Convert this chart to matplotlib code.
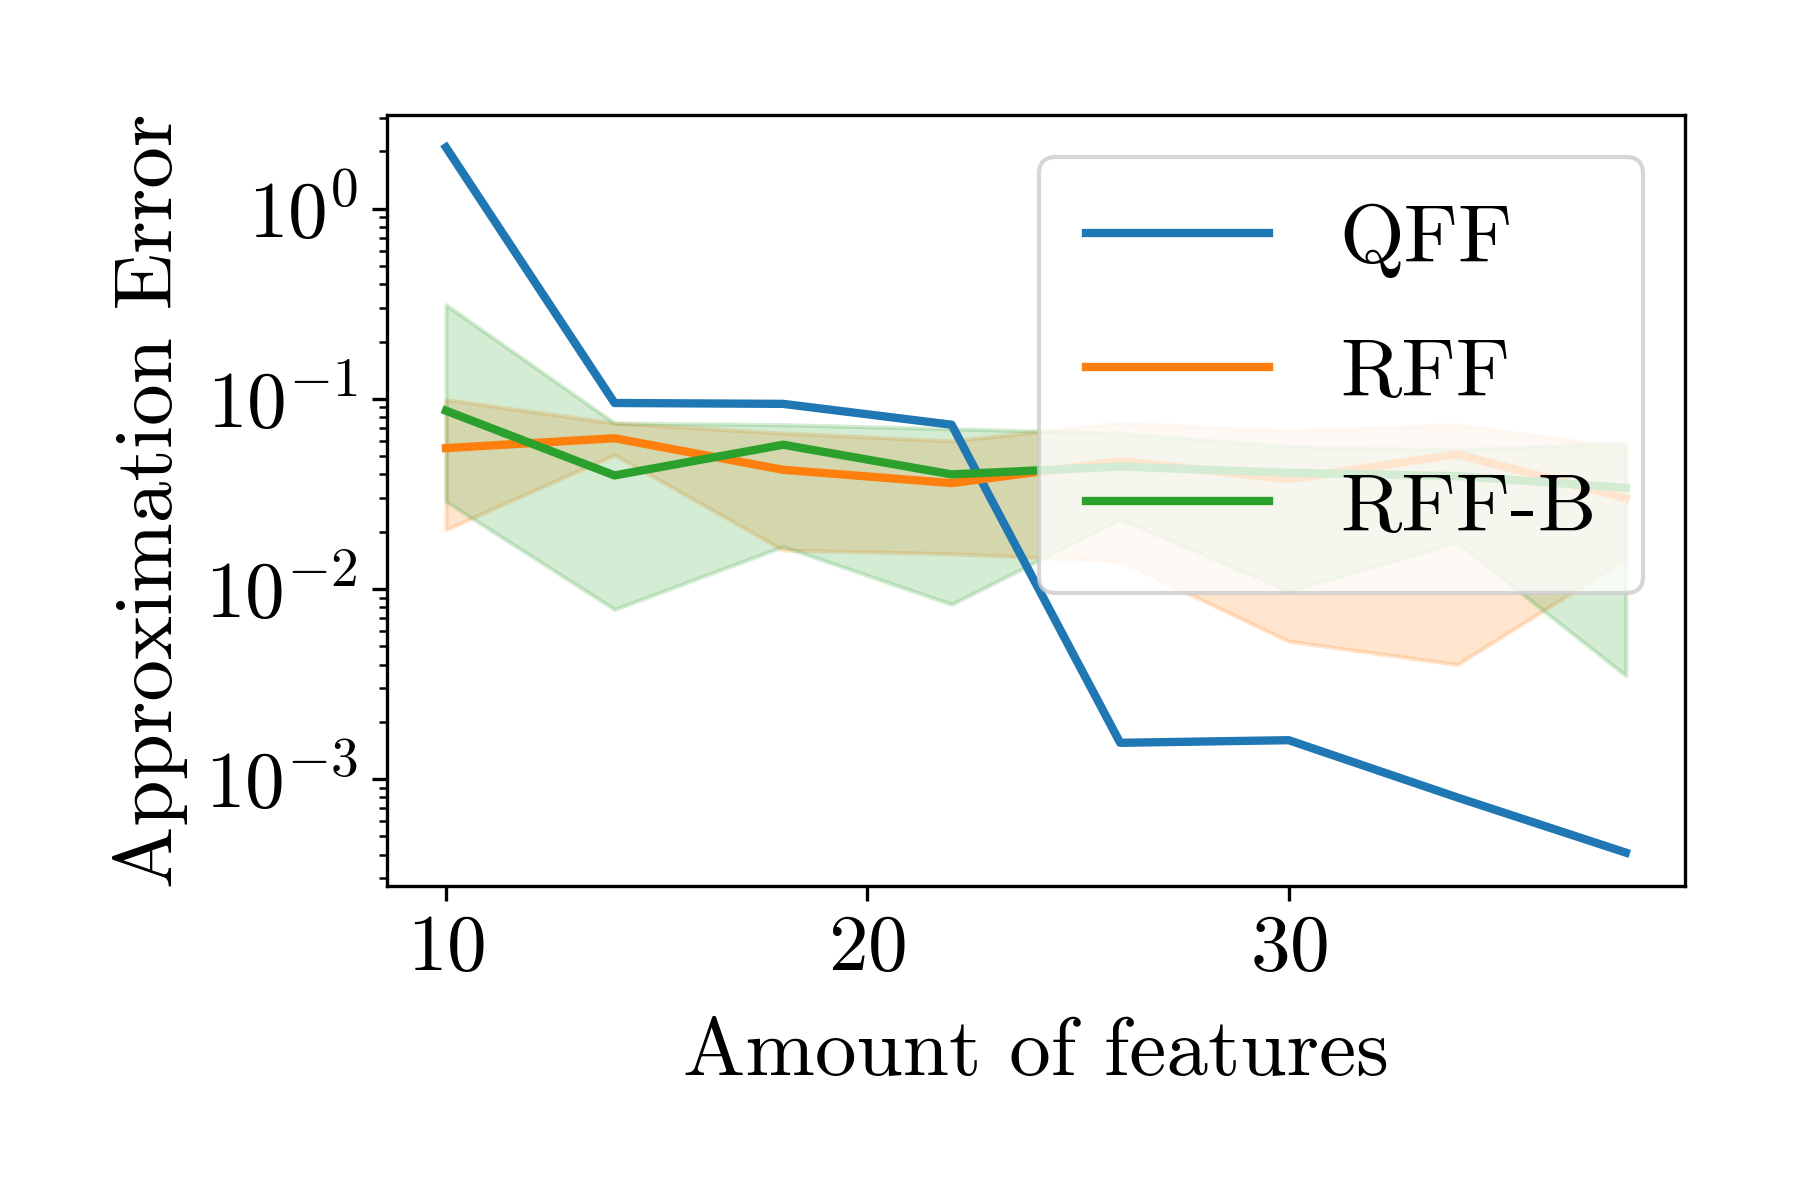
import matplotlib
matplotlib.use("Agg")
import matplotlib.pyplot as plt
import numpy as np

plt.rcParams['font.family'] = 'serif'
plt.rcParams['font.serif'] = ['cmr10']
plt.rcParams['mathtext.fontset'] = 'cm'
plt.rcParams['axes.formatter.use_mathtext'] = True

# number of features
features = [10, 14, 18, 22, 26, 30, 34, 38]

# QFF error
qff = [2.1, 0.095, 0.094, 0.073, 0.00155, 0.00160, 0.00080, 0.00041]

# RFF mean and band
rff = [0.055, 0.062, 0.0423, 0.036, 0.047, 0.0377, 0.051, 0.030]
rff_hi = [0.099, 0.0745, 0.066, 0.060, 0.0747, 0.0676, 0.0732, 0.055]
rff_lo = [0.0205, 0.0507, 0.016, 0.0153, 0.014, 0.0053, 0.0040, 0.0144]

# RFF-B mean and band
rffb = [0.0865, 0.0395, 0.0573, 0.040, 0.044, 0.0408, 0.0392, 0.0340]
rffb_hi = [0.312, 0.0745, 0.073, 0.0695, 0.066, 0.0563, 0.054, 0.059]
rffb_lo = [0.0288, 0.0078, 0.0167, 0.0083, 0.0232, 0.0097, 0.0175, 0.0035]

fig = plt.figure(figsize=(6, 4), dpi=300)
ax = fig.add_axes([0.215, 0.262, 0.721, 0.642])

ax.plot(features, qff, color='C0', lw=2, label='QFF')
ax.plot(features, rff, color='C1', lw=2, label='RFF')
ax.fill_between(features, rff_lo, rff_hi, color='C1', alpha=0.2)
ax.plot(features, rffb, color='C2', lw=2, label='RFF-B')
ax.fill_between(features, rffb_lo, rffb_hi, color='C2', alpha=0.2)

ax.set_yscale('log')
ax.set_ylim(2.75e-4, 3.1)
ax.set_xticks([10, 20, 30])
ax.tick_params(labelsize=19)
ax.set_xlabel('Amount of features', fontsize=20, labelpad=7.5)
ax.set_ylabel('Approximation Error', fontsize=20)
ax.legend(loc='upper right', fontsize=20, handlelength=2.2, labelspacing=0.72,
          borderpad=0.56, handletextpad=0.85)

fig.savefig('out.png', dpi=300)
